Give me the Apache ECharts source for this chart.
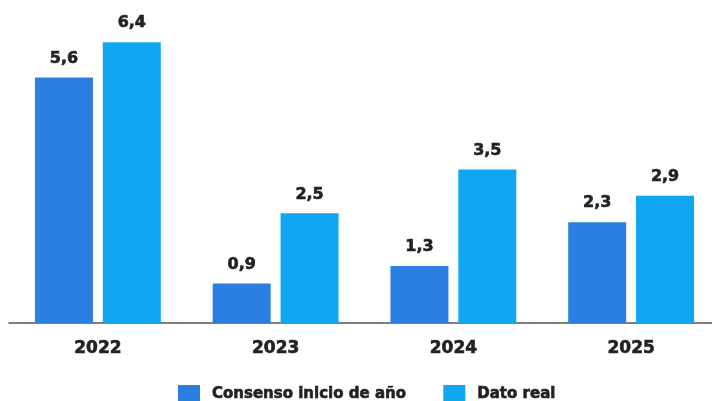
<!DOCTYPE html>
<html>
<head>
<meta charset="utf-8">
<script src="https://cdn.jsdelivr.net/npm/echarts@6/dist/echarts.min.js"></script>
<style>html,body{margin:0;padding:0;background:#fff;overflow:hidden;width:712px;height:401px;}#c{width:720px;height:401px;}</style>
</head>
<body>
<div id="c"></div>
<script>
const categories = ['2022', '2023', '2024', '2025'];
const consenso = [5.6, 0.9, 1.3, 2.3];
const datoReal = [6.4, 2.5, 3.5, 2.9];
const seriesNames = ['Consenso inicio de año', 'Dato real'];

const chart = echarts.init(document.getElementById('c'), null, {renderer: 'canvas'});
const font = 'DejaVu Sans';
const fmt = p => String(p.value).replace('.', ',');
const heavy = {textBorderColor: '#222', textBorderWidth: 0.6};
chart.setOption({
  animation: false,
  backgroundColor: '#ffffff',
  grid: {left: 9, right: 0, top: 16, bottom: 78, containLabel: false},
  legend: {
    left: 178, top: 385, padding: 0,
    itemWidth: 22, itemHeight: 18, itemGap: 37,
    icon: 'rect',
    textStyle: Object.assign({fontFamily: font, fontWeight: 'bold', fontSize: 15, color: '#222', padding: [0,0,0,7]}, heavy),
    data: seriesNames
  },
  xAxis: {
    type: 'category', data: categories,
    axisLine: {lineStyle: {color: '#555', width: 1.5}},
    axisTick: {show: false},
    axisLabel: Object.assign({fontFamily: font, fontWeight: 'bold', fontSize: 17, color: '#222', margin: 17}, heavy)
  },
  yAxis: {type: 'value', min: 0, max: 7, show: false, splitLine: {show: false}},
  series: [
    {name: seriesNames[0], type: 'bar', data: consenso, barWidth: 58, barGap: '17%',
     itemStyle: {color: '#2a7fe0'},
     label: Object.assign({show: true, position: 'top', distance: 11, formatter: fmt, fontFamily: font, fontWeight: 'bold', fontSize: 16, color: '#222'}, heavy)},
    {name: seriesNames[1], type: 'bar', data: datoReal, barWidth: 58,
     itemStyle: {color: '#10a6f2'},
     label: Object.assign({show: true, position: 'top', distance: 11, formatter: fmt, fontFamily: font, fontWeight: 'bold', fontSize: 16, color: '#222'}, heavy)}
  ]
});
</script>
</body>
</html>
